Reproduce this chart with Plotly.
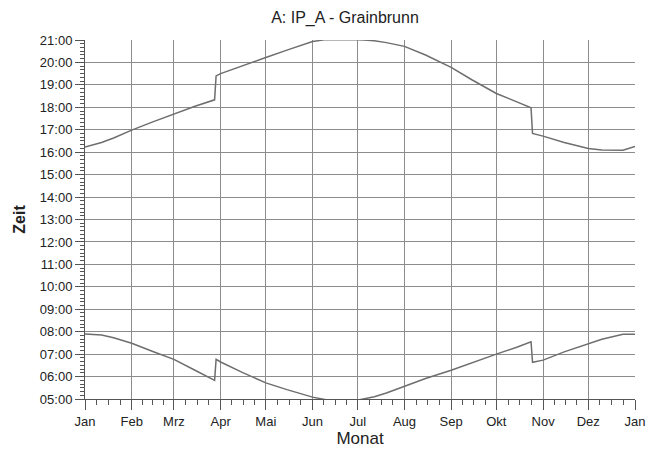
import pandas as pd
import plotly.graph_objects as go

dates = ["2015-01-01", "2015-01-12", "2015-01-20", "2015-02-01", "2015-02-15",
         "2015-03-01", "2015-03-15", "2015-03-28", "2015-03-29", "2015-04-01",
         "2015-04-15", "2015-05-01", "2015-05-15", "2015-06-01", "2015-06-10",
         "2015-06-21", "2015-07-01", "2015-07-05", "2015-07-12", "2015-07-20",
         "2015-08-01", "2015-08-15", "2015-09-01", "2015-09-15", "2015-10-01",
         "2015-10-15", "2015-10-24", "2015-10-25", "2015-11-01", "2015-11-15",
         "2015-12-01", "2015-12-10", "2015-12-24", "2016-01-01"]

sunset = ["16:14", "16:26", "16:38", "16:59", "17:21",
          "17:43", "18:03", "18:20", "19:24", "19:30",
          "19:51", "20:13", "20:33", "20:56", "21:01",
          "21:02", "21:01", "21:00", "20:58", "20:53",
          "20:43", "20:20", "19:47", "19:13", "18:37",
          "18:14", "17:59", "16:50", "16:43", "16:26",
          "16:10", "16:06", "16:05", "16:15"]

sunrise = ["07:54", "07:51", "07:44", "07:29", "07:07",
           "06:46", "06:17", "05:50", "06:46", "06:39",
           "06:12", "05:43", "05:25", "05:05", "04:58",
           "04:55", "04:57", "05:00", "05:06", "05:16",
           "05:34", "05:55", "06:17", "06:38", "07:00",
           "07:19", "07:33", "06:38", "06:44", "07:06",
           "07:29", "07:40", "07:53", "07:53"]

month_starts = ["2015-01-01", "2015-02-01", "2015-03-01", "2015-04-01", "2015-05-01",
                "2015-06-01", "2015-07-01", "2015-08-01", "2015-09-01", "2015-10-01",
                "2015-11-01", "2015-12-01", "2016-01-01"]
month_labels = ["Jan", "Feb", "Mrz", "Apr", "Mai", "Jun", "Jul", "Aug", "Sep",
                "Okt", "Nov", "Dez", "Jan"]
hour_values = list(range(5, 22))
hour_labels = [f"{h:02d}:00" for h in hour_values]


def to_hours(s):
    h, m = s.split(":")
    return int(h) + int(m) / 60.0


x = pd.to_datetime(dates)
ms = pd.to_datetime(month_starts)
minor_x = []
for a, b in zip(ms[:-1], ms[1:]):
    for k in range(1, 4):
        minor_x.append(a + (b - a) * k / 4)

line_color = "#6e6e6e"
grid_color = "#8c8c8c"
font_family = "Liberation Sans, Arial, sans-serif"

W, H = 648, 455

fig = go.Figure()
fig.add_trace(go.Scatter(x=x, y=[to_hours(v) for v in sunset], mode="lines",
                         line=dict(color=line_color, width=1.5), name="Sonnenuntergang"))
fig.add_trace(go.Scatter(x=x, y=[to_hours(v) for v in sunrise], mode="lines",
                         line=dict(color=line_color, width=1.5), name="Sonnenaufgang"))

fig.update_layout(
    width=W, height=H,
    margin=dict(l=85, r=13, t=40, b=56),
    paper_bgcolor="white", plot_bgcolor="white",
    showlegend=False,
    font=dict(family=font_family, color="#222222", size=13),
    title=dict(text="A: IP_A - Grainbrunn", x=345 / W, xanchor="center",
               y=1 - 17 / H, yanchor="middle",
               font=dict(size=16, family=font_family, color="#222222")),
)

fig.update_xaxes(
    type="date", range=[ms[0], ms[-1]], automargin=False,
    tickmode="array", tickvals=ms, ticktext=month_labels,
    ticks="outside", ticklen=10, tickcolor="#555555",
    showgrid=True, gridcolor=grid_color, gridwidth=1,
    showline=True, linecolor="#555555", linewidth=1,
    zeroline=False,
    tickfont=dict(size=13),
    minor=dict(tickmode="array", tickvals=minor_x, ticks="outside", ticklen=5,
               tickcolor="#555555", showgrid=False),
    title=dict(text="Monat", font=dict(size=17), standoff=4),
)

fig.update_yaxes(
    range=[5, 21], automargin=False,
    tickmode="array", tickvals=hour_values, ticktext=hour_labels,
    ticks="outside", ticklen=9, tickcolor="#555555",
    showgrid=True, gridcolor=grid_color, gridwidth=1,
    showline=True, linecolor="#555555", linewidth=1,
    zeroline=False,
    tickfont=dict(size=13),
    minor=dict(dtick=1 / 6, tick0=5, ticks="outside", ticklen=4,
               tickcolor="#555555", showgrid=False),
    title=dict(text="<b>Zeit</b>", font=dict(size=16), standoff=10),
)

# remove the browser's default 8px page margin so the figure fills the window
fig.write_html("out.html",
               config={"displayModeBar": False},
               post_script="document.body.style.margin='0';document.body.style.overflow='hidden';")
